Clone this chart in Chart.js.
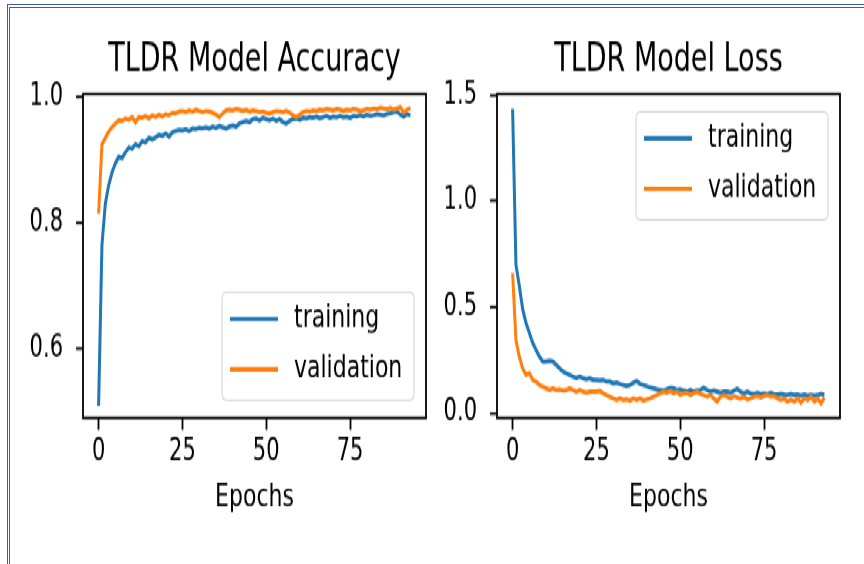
<!DOCTYPE html>
<html><head><meta charset="utf-8">
<script src="https://cdn.jsdelivr.net/npm/chart.js@4.4.1/dist/chart.umd.min.js"></script>
<style>
html,body{margin:0;padding:0;background:#fff;width:864px;height:564px;overflow:hidden;}
#frame1{position:absolute;left:7px;top:4px;width:900px;height:600px;border-left:1px solid #3e5fa8;border-top:1px solid #3e5fa8;}
#frame2{position:absolute;left:9px;top:7px;width:900px;height:600px;border-left:1px solid #3e5fa8;border-top:1px solid #3e5fa8;}
#stage{position:absolute;left:0;top:0;width:864px;height:381px;transform:scaleY(1.48031);transform-origin:0 0;}
#stage canvas{position:absolute;top:0;}
</style></head>
<body>
<div id="frame1"></div><div id="frame2"></div>
<div id="stage">
<canvas id="acc" width="440" height="381" style="left:0px;width:440px;height:381px"></canvas>
<canvas id="loss" width="424" height="381" style="left:440px;width:424px;height:381px"></canvas>
</div>
<script>
const trainAcc = [0.51,0.765,0.83,0.86,0.88,0.895,0.905,0.903,0.912,0.92,
  0.918,0.925,0.922,0.93,0.928,0.935,0.933,0.936,0.94,0.938,
  0.942,0.937,0.944,0.946,0.948,0.947,0.949,0.946,0.95,0.949,
  0.951,0.95,0.952,0.95,0.953,0.951,0.954,0.952,0.95,0.953,
  0.955,0.953,0.958,0.96,0.962,0.96,0.965,0.966,0.963,0.967,
  0.965,0.963,0.966,0.962,0.965,0.96,0.958,0.962,0.965,0.966,
  0.964,0.967,0.966,0.968,0.967,0.969,0.966,0.968,0.97,0.967,
  0.969,0.968,0.97,0.968,0.969,0.967,0.97,0.969,0.971,0.969,
  0.972,0.97,0.971,0.973,0.972,0.971,0.973,0.974,0.976,0.977,
  0.972,0.969,0.973,0.971];
const valAcc = [0.815,0.925,0.935,0.945,0.952,0.958,0.963,0.962,0.966,0.964,
  0.968,0.96,0.968,0.967,0.97,0.966,0.971,0.968,0.972,0.969,
  0.973,0.971,0.975,0.974,0.977,0.978,0.976,0.979,0.977,0.98,
  0.978,0.976,0.978,0.977,0.975,0.972,0.968,0.974,0.979,0.98,
  0.979,0.981,0.98,0.978,0.98,0.977,0.979,0.978,0.976,0.977,
  0.975,0.974,0.976,0.978,0.977,0.976,0.978,0.975,0.971,0.968,
  0.972,0.976,0.978,0.977,0.979,0.978,0.98,0.979,0.981,0.98,
  0.979,0.981,0.98,0.978,0.98,0.979,0.981,0.98,0.978,0.979,
  0.981,0.98,0.982,0.981,0.983,0.982,0.981,0.983,0.98,0.982,
  0.984,0.976,0.98,0.983];
const trainLoss = [1.435,0.70,0.60,0.49,0.425,0.378,0.33,0.298,0.266,0.243,
  0.243,0.246,0.243,0.227,0.211,0.196,0.188,0.18,0.172,0.164,
  0.172,0.164,0.159,0.164,0.156,0.156,0.153,0.156,0.148,0.148,
  0.140,0.143,0.137,0.132,0.127,0.132,0.143,0.151,0.137,0.132,
  0.127,0.120,0.117,0.112,0.109,0.106,0.112,0.119,0.117,0.109,
  0.112,0.106,0.101,0.109,0.101,0.106,0.109,0.119,0.109,0.101,
  0.106,0.101,0.096,0.101,0.101,0.096,0.106,0.114,0.101,0.093,
  0.101,0.093,0.090,0.096,0.090,0.093,0.090,0.096,0.090,0.087,
  0.090,0.087,0.085,0.090,0.085,0.087,0.083,0.087,0.083,0.085,
  0.082,0.085,0.090,0.086];
const valLoss = [0.66,0.345,0.266,0.211,0.180,0.188,0.156,0.148,0.132,0.125,
  0.117,0.109,0.117,0.109,0.112,0.106,0.109,0.117,0.109,0.101,
  0.109,0.101,0.096,0.101,0.101,0.101,0.104,0.093,0.085,0.077,
  0.069,0.061,0.069,0.061,0.064,0.058,0.069,0.061,0.069,0.058,
  0.064,0.069,0.077,0.085,0.093,0.101,0.096,0.104,0.093,0.101,
  0.085,0.093,0.096,0.085,0.093,0.101,0.090,0.085,0.077,0.085,
  0.069,0.054,0.077,0.085,0.077,0.069,0.080,0.074,0.069,0.077,
  0.064,0.069,0.077,0.080,0.074,0.080,0.085,0.077,0.080,0.069,
  0.061,0.069,0.054,0.064,0.054,0.069,0.049,0.069,0.061,0.077,
  0.054,0.069,0.046,0.074];
const seriesLabels = ['training', 'validation'];
const epochTicks = [0, 25, 50, 75];
const accTicks = [0.6, 0.8, 1.0];
const lossTicks = [0.0, 0.5, 1.0, 1.5];
const chartTitles = ['TLDR Model Accuracy', 'TLDR Model Loss'];
const xAxisTitle = 'Epochs';
const epochs = trainAcc.map((_, i) => i);

const FONT = 'DejaVu Sans';
const BLUE = '#1f77b4', ORANGE = '#ff7f0e';

const framePlugin = {
  id: 'frame',
  afterDatasetsDraw(chart) {
    const {ctx, chartArea: a} = chart;
    ctx.save();
    ctx.strokeStyle = '#000';
    ctx.lineWidth = 1.8;
    ctx.strokeRect(a.left, a.top, a.right - a.left, a.bottom - a.top);
    ctx.restore();
  }
};

const legendPlugin = {
  id: 'boxLegend',
  afterDraw(chart, args, opts) {
    const {ctx, chartArea: a} = chart;
    const w = 192, h = 73, pad = 12;
    const x = a.right - pad - w;
    const y = opts.corner === 'lower right' ? a.bottom - pad - h : a.top + pad;
    const r = 4;
    ctx.save();
    ctx.beginPath();
    ctx.moveTo(x + r, y);
    ctx.lineTo(x + w - r, y);
    ctx.quadraticCurveTo(x + w, y, x + w, y + r);
    ctx.lineTo(x + w, y + h - r);
    ctx.quadraticCurveTo(x + w, y + h, x + w - r, y + h);
    ctx.lineTo(x + r, y + h);
    ctx.quadraticCurveTo(x, y + h, x, y + h - r);
    ctx.lineTo(x, y + r);
    ctx.quadraticCurveTo(x, y, x + r, y);
    ctx.closePath();
    ctx.fillStyle = 'rgba(255,255,255,0.8)';
    ctx.fill();
    ctx.strokeStyle = '#d0d0d0';
    ctx.lineWidth = 1;
    ctx.stroke();
    chart.data.datasets.forEach((ds, i) => {
      const cy = y + 18 + i * 34;
      ctx.beginPath();
      ctx.moveTo(x + 8, cy);
      ctx.lineTo(x + 56, cy);
      ctx.strokeStyle = ds.borderColor;
      ctx.lineWidth = 3;
      ctx.stroke();
      ctx.fillStyle = '#000';
      ctx.font = '22px "' + FONT + '"';
      ctx.textBaseline = 'middle';
      ctx.textAlign = 'left';
      ctx.fillText(ds.label, x + 72, cy);
    });
    ctx.restore();
  }
};

function makeChart(id, tr, va, yTicks, yMin, yMax, title, axisW, padR, corner) {
  return new Chart(document.getElementById(id), {
    type: 'line',
    data: {
      datasets: [
        {label: seriesLabels[0], data: epochs.map((e, i) => ({x: e, y: tr[i]})), borderColor: BLUE, backgroundColor: BLUE, borderWidth: 3, pointRadius: 0, fill: false, tension: 0, order: 1},
        {label: seriesLabels[1], data: epochs.map((e, i) => ({x: e, y: va[i]})), borderColor: ORANGE, backgroundColor: ORANGE, borderWidth: 3, pointRadius: 0, fill: false, tension: 0, order: 0}
      ]
    },
    options: {
      responsive: false, animation: false, devicePixelRatio: 1,
      layout: {padding: {left: 0, right: padR, top: 0, bottom: 0}},
      plugins: {
        legend: {display: false},
        tooltip: {enabled: false},
        title: {display: true, text: title, fullSize: false, color: '#000',
          font: {family: FONT, size: 27, weight: 'normal', lineHeight: 1.2},
          padding: {top: 24.3, bottom: 6.8}},
        boxLegend: {corner: corner}
      },
      scales: {
        x: {
          type: 'linear', min: -4.65, max: 97.65,
          afterBuildTicks: s => { s.ticks = epochTicks.map(v => ({value: v})); },
          afterFit: s => { s.height = 98.6; },
          grid: {display: true, drawOnChartArea: false, drawTicks: true, tickLength: 8, tickWidth: 1.8, tickColor: '#000'},
          border: {display: false},
          ticks: {color: '#000', font: {family: FONT, size: 21}, padding: 3, maxRotation: 0, autoSkip: false, callback: v => String(v)},
          title: {display: true, text: xAxisTitle, color: '#000', font: {family: FONT, size: 22}, padding: {top: 0, bottom: 31.8}}
        },
        y: {
          type: 'linear', min: yMin, max: yMax,
          afterBuildTicks: s => { s.ticks = yTicks.map(v => ({value: v})); },
          afterFit: s => { s.width = axisW; },
          grid: {display: true, drawOnChartArea: false, drawTicks: true, tickLength: 7, tickWidth: 1.8, tickColor: '#000'},
          border: {display: false},
          ticks: {color: '#000', font: {family: FONT, size: 21}, padding: 13, autoSkip: false, callback: v => Number(v).toFixed(1)}
        }
      }
    },
    plugins: [framePlugin, legendPlugin]
  });
}

makeChart('acc', trainAcc, valAcc, accTicks, 0.4905, 1.0048, chartTitles[0], 83, 14, 'lower right');
makeChart('loss', trainLoss, valLoss, lossTicks, -0.0236, 1.5047, chartTitles[1], 57, 24, 'upper right');
</script>
</body></html>
